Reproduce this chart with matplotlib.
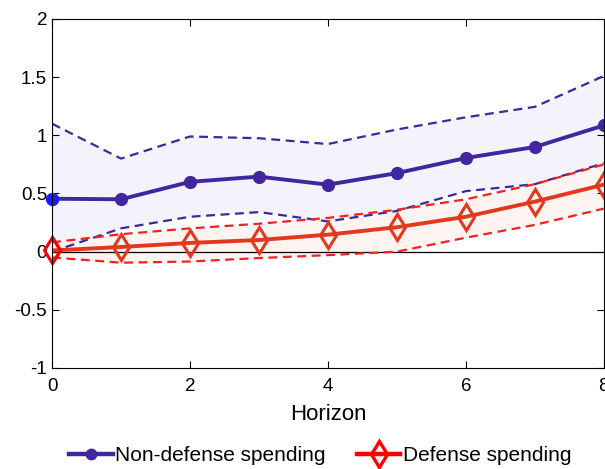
import numpy as np
import matplotlib.pyplot as plt

plt.rcParams['font.family'] = ['Liberation Sans', 'DejaVu Sans']

horizon = [0, 1, 2, 3, 4, 5, 6, 7, 8]

nondef = [0.455, 0.45, 0.60, 0.645, 0.576, 0.675, 0.805, 0.90, 1.085]
nondef_hi = [1.10, 0.80, 0.99, 0.975, 0.925, 1.05, 1.155, 1.245, 1.51]
nondef_lo = [0.0, 0.20, 0.30, 0.34, 0.26, 0.35, 0.52, 0.58, 0.76]

defense = [0.01, 0.04, 0.075, 0.10, 0.146, 0.21, 0.30, 0.43, 0.576]
defense_hi = [0.08, 0.15, 0.20, 0.24, 0.29, 0.36, 0.45, 0.58, 0.75]
defense_lo = [-0.05, -0.095, -0.085, -0.055, -0.03, 0.0, 0.12, 0.23, 0.37]

blue = '#40279f'
red = '#e3381e'

fig = plt.figure(figsize=(6.05, 4.69), dpi=100)
ax = fig.add_axes([0.086, 0.2154, 0.912, 0.7441])

ax.fill_between(horizon, nondef_lo, nondef_hi, color='#f4f2fb', lw=0)
ax.fill_between(horizon, defense_lo, defense_hi, color='#fdf3f0', lw=0)
ax.axhline(0, color='black', lw=0.9)

ax.plot(horizon, nondef_hi, '--', color=blue, lw=1.6, dashes=(4, 2.5))
ax.plot(horizon, nondef_lo, '--', color=blue, lw=1.6, dashes=(4, 2.5))
ax.plot(horizon, defense_hi, '--', color='#f42020', lw=1.6, dashes=(4, 2.5))
ax.plot(horizon, defense_lo, '--', color='#f42020', lw=1.6, dashes=(4, 2.5))

ax.plot(horizon, nondef, '-o', color=blue, lw=2.8, ms=8.5, label='Non-defense spending')
ax.plot(horizon, defense, '-d', color=red, lw=2.8, ms=13, mfc='none', mew=2.2, label='Defense spending')
ax.plot(horizon[:1], nondef[:1], 'o', color='#1a1aff', ms=8.5, clip_on=False)
ax.plot(horizon[:1], defense[:1], 'd', color='#ff0000', ms=13, mfc='none', mew=2.2, clip_on=False)

ax.set_xlim(0, 8)
ax.set_ylim(-1, 2)
ax.set_xticks([0, 2, 4, 6, 8])
ax.set_yticks([-1, -0.5, 0, 0.5, 1, 1.5, 2])
ax.set_yticklabels(['-1', '-0.5', '0', '0.5', '1', '1.5', '2'])
ax.tick_params(direction='in', top=True, right=True, labelsize=13.5, length=5)
ax.tick_params(axis='x', pad=7)
ax.set_xlabel('Horizon', fontsize=16, labelpad=7)

h, l = ax.get_legend_handles_labels()
h[0] = plt.Line2D([], [], color=blue, lw=3.2, marker='o', ms=7.5)
h[1] = plt.Line2D([], [], color='#ff0000', lw=3.2, marker='d', ms=13, mfc='none', mew=2.4)
fig.legend(h, l, loc='center', bbox_to_anchor=(0.529, 0.028), ncol=2, frameon=False,
           fontsize=15, handlelength=2.1, handletextpad=0.1, columnspacing=1.5)

fig.savefig('out.png', dpi=100)
